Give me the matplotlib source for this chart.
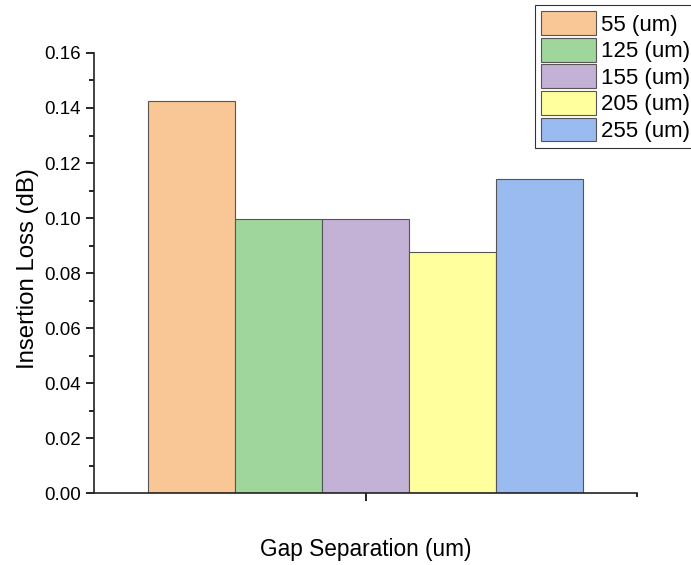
import matplotlib.pyplot as plt
from matplotlib.ticker import MultipleLocator

plt.rcParams['font.family'] = ['Liberation Sans', 'DejaVu Sans']

labels = ['55 (um)', '125 (um)', '155 (um)', '205 (um)', '255 (um)']
values = [0.1425, 0.0995, 0.0995, 0.0878, 0.1142]
colors = ['#F9C795', '#9FD69B', '#C3B1D6', '#FFFF9E', '#9ABBEF']

fig = plt.figure(figsize=(6.91, 5.65), dpi=100)
ax = fig.add_axes([0.136, 0.1274, 0.786, 0.7788])

width = 0.16
start = 1 - 2 * width
for i, (lab, v, c) in enumerate(zip(labels, values, colors)):
    ax.bar(start + i * width, v, width=width, color=c, edgecolor='#555555',
           linewidth=0.8, label=lab)

ax.set_xlim(0.5, 1.5)
ax.set_ylim(0, 0.16)
ax.set_xticks([1])
ax.set_xticklabels([''])
ax.set_xticks([1.5], minor=True)
ax.yaxis.set_major_locator(MultipleLocator(0.02))
ax.yaxis.set_minor_locator(MultipleLocator(0.01))
ax.yaxis.set_major_formatter(plt.FormatStrFormatter('%.2f'))
ax.tick_params(axis='y', which='major', direction='out', length=6, width=1.2, labelsize=13.5)
ax.tick_params(axis='y', which='minor', direction='out', length=3.5, width=1.2)
ax.tick_params(axis='x', which='major', direction='out', length=6, width=1.2)
ax.tick_params(axis='x', which='minor', direction='out', length=3, width=1.2)
for s in ['top', 'right']:
    ax.spines[s].set_visible(False)
for s in ['left', 'bottom']:
    ax.spines[s].set_linewidth(1.2)
    ax.spines[s].set_color('#222222')

fig.text(0.04, 0.524, 'Insertion Loss (dB)', fontsize=17.3, rotation=90,
         ha='center', va='center')
fig.text(0.53, 0.028, 'Gap Separation (um)', fontsize=16.3, ha='center', va='center')

leg = fig.legend(loc='upper left', bbox_to_anchor=(0.774, 0.991), fontsize=16,
                 frameon=True, fancybox=False, edgecolor='black',
                 handlelength=2.45, handleheight=1.27, handletextpad=0.23,
                 borderpad=0.28, labelspacing=0.1, borderaxespad=0)
leg.get_frame().set_linewidth(0.8)

fig.savefig('out.png', dpi=100)
